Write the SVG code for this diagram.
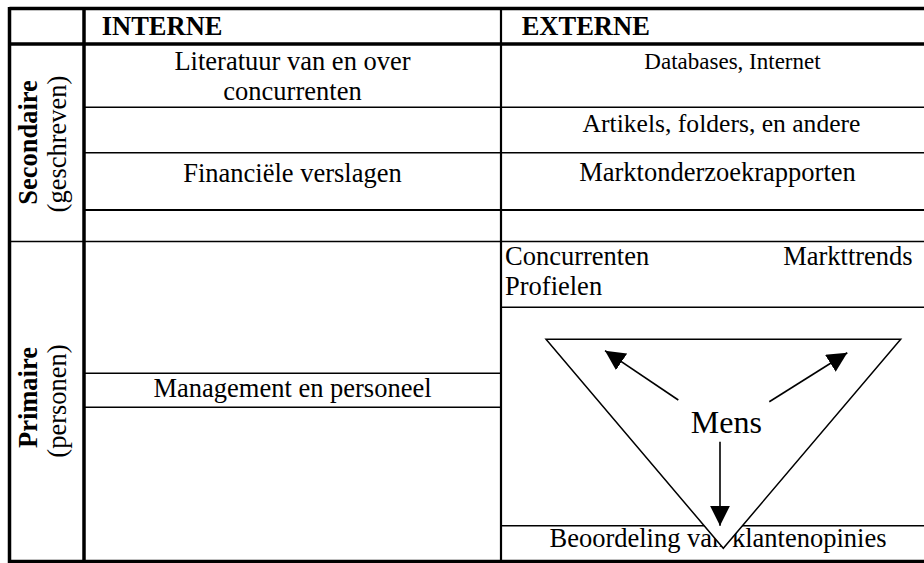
<svg xmlns="http://www.w3.org/2000/svg" width="924" height="563" viewBox="0 0 924 563">
  <style>
    .t { font-family: "Liberation Serif", "Times New Roman", serif; font-size: 26.5px; fill: #000; }
    .b { font-weight: bold; }
    .c { text-anchor: middle; }
    .thick { stroke: #000; stroke-width: 3.5; fill: none; }
    .mid { stroke: #000; stroke-width: 2.2; fill: none; }
    .thin { stroke: #000; stroke-width: 1.4; fill: none; }
    .arrow { stroke: #000; stroke-width: 1.6; fill: none; marker-end: url(#head); }
  </style>
  <defs>
    <marker id="head" viewBox="0 0 20 20" refX="20" refY="10" markerWidth="20" markerHeight="20" markerUnits="userSpaceOnUse" orient="auto">
      <path d="M0,0 L20,10 L0,20 Z" fill="#000"/>
    </marker>
  </defs>
  <rect width="924" height="563" fill="#fff"/>

  <!-- table grid -->
  <g id="grid">
    <line class="thick" x1="9.5" y1="8.5" x2="924" y2="8.5"/>
    <line class="thick" x1="9.5" y1="44" x2="924" y2="44"/>
    <line class="thick" x1="9.5" y1="561.5" x2="924" y2="561.5"/>
    <line class="thick" x1="9.5" y1="7" x2="9.5" y2="563"/>
    <line class="thick" x1="84" y1="7" x2="84" y2="563"/>
    <line class="mid" x1="501" y1="8.5" x2="501" y2="561.5"/>
    <!-- secondary rows -->
    <line class="thin" x1="84" y1="107.3" x2="924" y2="107.3"/>
    <line class="thin" x1="84" y1="152.7" x2="924" y2="152.7"/>
    <line class="mid" x1="84" y1="210" x2="924" y2="210"/>
    <line class="thin" x1="9.5" y1="241.5" x2="924" y2="241.5"/>
    <!-- primary rows -->
    <line class="thin" x1="84" y1="373.3" x2="501" y2="373.3"/>
    <line class="thin" x1="84" y1="407.3" x2="501" y2="407.3"/>
    <line class="thin" x1="501" y1="307.3" x2="924" y2="307.3"/>
    <line class="thin" x1="501" y1="525.7" x2="924" y2="525.7"/>
  </g>

  <!-- column headers -->
  <g id="headers">
    <text class="t b" x="101.7" y="35">INTERNE</text>
    <text class="t b" x="521.7" y="35">EXTERNE</text>
  </g>

  <!-- row headers -->
  <g id="row-secondaire">
    <text class="t b c" transform="translate(36.5,142.5) rotate(-90)">Secondaire</text>
    <text class="t c" transform="translate(66,144) rotate(-90)">(geschreven)</text>
  </g>
  <g id="row-primaire">
    <text class="t b c" transform="translate(36.5,397.5) rotate(-90)">Primaire</text>
    <text class="t c" transform="translate(66,401) rotate(-90)">(personen)</text>
  </g>

  <!-- internal sources -->
  <g id="interne">
    <text class="t c" x="292.5" y="70">Literatuur van en over</text>
    <text class="t c" x="292.5" y="99.5">concurrenten</text>
    <text class="t c" x="292.5" y="181.5">Financiële verslagen</text>
    <text class="t c" x="292.5" y="396.7">Management en personeel</text>
  </g>

  <!-- external sources -->
  <g id="externe">
    <text class="t c" x="732.5" y="68.5" style="font-size:23px">Databases, Internet</text>
    <text class="t c" x="721.5" y="131.5" style="font-size:25.6px">Artikels, folders, en andere</text>
    <text class="t c" x="717.5" y="180.5">Marktonderzoekrapporten</text>
    <text class="t" x="505" y="265">Concurrenten</text>
    <text class="t" x="912.7" y="265" text-anchor="end">Markttrends</text>
    <text class="t" x="505" y="295">Profielen</text>
    <text class="t c" x="718" y="546.7">Beoordeling van klantenopinies</text>
  </g>

  <!-- Mens triangle -->
  <g id="mens">
    <polygon points="546,339.3 900.7,339.3 723.3,548.3" fill="#fff" stroke="#000" stroke-width="1.5" stroke-linejoin="miter"/>
    <text class="t" x="726.3" y="433" text-anchor="middle" style="font-size:32px">Mens</text>
  </g>

  <!-- connectors -->
  <g id="connectors">
    <line class="arrow" x1="678.3" y1="400" x2="605" y2="350.7"/>
    <line class="arrow" x1="769.3" y1="401.7" x2="847.3" y2="352.7"/>
    <line class="arrow" x1="720" y1="441.7" x2="720" y2="525.7"/>
  </g>
</svg>
